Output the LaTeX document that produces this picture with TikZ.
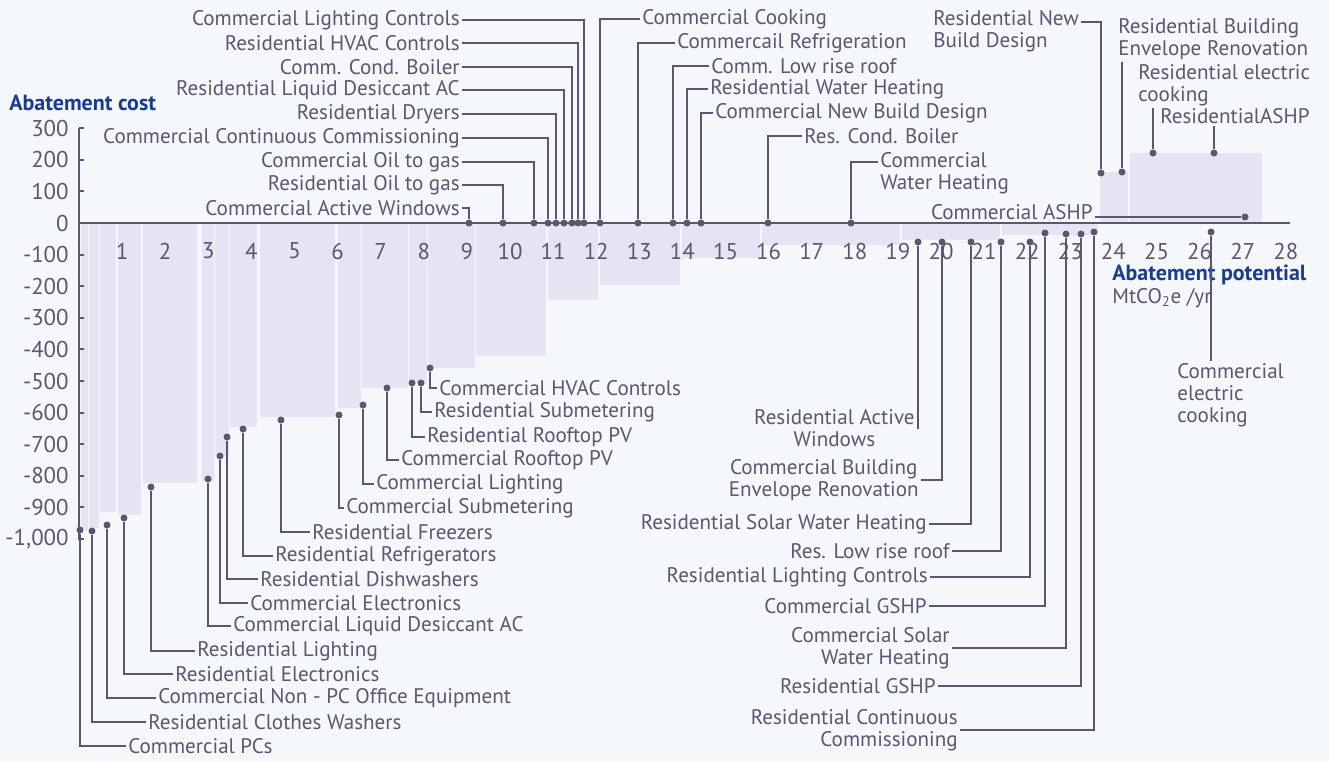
\documentclass[tikz,border=0pt]{standalone}
\usepackage{fontspec}
\setmainfont{PT Sans}
\definecolor{ink}{HTML}{5E5570}
\definecolor{barfill}{HTML}{E6E4F2}
\definecolor{paper}{HTML}{F5F8FA}
\definecolor{titleblue}{HTML}{1B3B8E}
\tikzset{
  lab/.style={font=\fontsize{12}{12.5}\selectfont, text=ink, inner sep=0.4mm},
  num/.style={font=\fontsize{13}{13}\selectfont, text=ink, inner sep=0.4mm},
  ttl/.style={font=\fontsize{12.5}{13}\selectfont\bfseries, text=titleblue, inner sep=0mm},
  dot/.style={circle, fill=ink, inner sep=0pt, minimum size=1.4mm},
  leader/.style={draw=ink, line width=0.26mm},
  axis/.style={draw=ink, line width=0.4mm},
  bar/.style={fill=barfill}
}
\begin{document}
\begin{tikzpicture}[x=0.2mm, y=-0.2mm]%courbe d'abattement

	\fill[paper] (0,0) rectangle (1329,761);
	\useasboundingbox (0,0) rectangle (1329,761);

	\foreach \a/\b/\c in {81/88/530, 89/99/528, 100/116/512, 118/141/515, 143/197/483,
		202/214/481, 215/229/457, 230/257/427, 260/335/417, 338/361/408, 362/408/388,
		409/427/383, 428/475/368, 476/546/356, 548/598/300, 600/680/285, 682/760/258,
		762/900/245, 902/1000/240, 1002/1098/235, 1100/1128/172, 1130/1262/153} {
		\fill[bar] (\a,223) rectangle (\b,\c);}

	\draw[axis] (79,540) -- (79,128);
	\draw[axis] (79,223) -- (1290,223);
	\foreach \v/\t [count=\i] in {300/300,200/200,100/100,0/0,-100/-100,-200/-200,-300/-300,
		-400/-400,-500/-500,-600/-600,-700/-700,-800/-800,-900/-900,-1000/{-1,000}} {
		\draw[axis] (79,{223-0.316*\v}) -- (84,{223-0.316*\v});
		\node[num, anchor=east] (yl\i) at (71,{223-0.316*\v}) {\t};}
	\foreach \k in {1,...,28} {
		\node[num] (xl\k) at ({79+43.1*\k},251) {\k};}

	\node[ttl, anchor=west] (ycap) at (9,103) {Abatement cost};
	\node[ttl, anchor=west] (xcap) at (1112,275) {Abatement potential};
	\node[lab, anchor=west, inner sep=0mm] (xunit) at (1112,298) {MtCO\textsubscript{2}e /yr};

	\foreach \dx/\dy/\lx/\ly/\txt [count=\i] in {80/530/126/746/Commercial PCs,
		92/531/146/722/Residential Clothes Washers,
		107/525/156/698/Commercial Non - PC Office Equipment,
		124/518/173/674/Residential Electronics,
		151/487/195/651/Residential Lighting,
		208/479/231/626/Commercial Liquid Desiccant AC,
		220/456/248/603/Commercial Electronics,
		227/437/258/579/Residential Dishwashers,
		243/429/273/556/Residential Refrigerators,
		281/420/310/532/Residential Freezers,
		339/415/344/508/Commercial Submetering,
		363/405/374/484/Commercial Lighting,
		387/388/399/460/Commercial Rooftop PV,
		412/383/425/437/Residential Rooftop PV,
		421/383/432/412/Residential Submetering,
		430/368/437/388/Commercial HVAC Controls} {
		\node[dot] (bd\i) at (\dx,\dy) {};
		\node[lab, anchor=west] (bt\i) at (\lx,\ly) {\txt};
		\draw[leader] (bd\i) |- (bt\i.west);}

	\foreach \dx/\ly/\txt [count=\i] in {469/208/Commercial Active Windows,
		503/185/Residential Oil to gas,
		534/162/Commercial Oil to gas,
		548/138/Commercial Continuous Commissioning,
		556/114/Residential Dryers,
		564/90/Residential Liquid Desiccant AC,
		572/67/Comm. Cond. Boiler,
		578/43/Residential HVAC Controls,
		584/20/Commercial Lighting Controls} {
		\node[dot] (td\i) at (\dx,223) {};
		\node[lab, anchor=east] (tt\i) at (462,\ly) {\txt};
		\draw[leader] (tt\i.east) -| (td\i);}

	\foreach \dx/\lx/\ly/\txt [count=\i] in {600/640/19/Commercial Cooking,
		638/675/43/Commercail Refrigeration,
		673/709/66/Comm. Low rise roof,
		687/708/89/Residential Water Heating,
		701/713/113/Commercial New Build Design,
		768/802/136/Res. Cond. Boiler} {
		\node[dot] (rd\i) at (\dx,223) {};
		\node[lab, anchor=west] (rt\i) at (\lx,\ly) {\txt};
		\draw[leader] (rd\i) |- (rt\i.west);}

	\foreach \dx/\dy/\lx/\ly/\al/\txt [count=\i] in {
		918/242/917/428/center/{Residential Active\\Windows},
		942/242/921/480/center/{Commercial Building\\Envelope Renovation},
		971/242/929/524/right/Residential Solar Water Heating,
		1001/242/952/551/right/Res. Low rise roof,
		1030/242/930/577/right/Residential Lighting Controls,
		1045/233/929/606/right/Commercial GSHP,
		1066/234/952/648/right/{Commercial Solar\\Water Heating},
		1081/234/938/686/right/Residential GSHP,
		1094/232/960/730/right/{Residential Continuous\\Commissioning}} {
		\node[dot] (qd\i) at (\dx,\dy) {};
		\node[lab, anchor=east, align=\al] (qt\i) at (\lx,\ly) {\txt};
		\draw[leader] (qd\i) |- (qt\i.east);}

	\node[dot] (nd1) at (1101,173) {};
	\node[lab, anchor=north west, align=left] (nt1) at (931,8) {Residential New\\Build Design};
	\draw[leader] (nd1) |- ([yshift=-2.8mm]nt1.north east);
	\node[dot] (nd2) at (1122,172) {};
	\node[lab, anchor=north west, align=left] (nt2) at (1116,16) {Residential Building\\Envelope Renovation};
	\draw[leader] (nd2) -- (nd2 |- nt2.south);
	\node[dot] (nd3) at (1153,153) {};
	\node[lab, anchor=north west, align=left] (nt3) at (1136,62) {Residential electric\\cooking};
	\draw[leader] (nd3) -- (nd3 |- nt3.south);
	\node[dot] (nd4) at (1214,153) {};
	\node[lab, anchor=west] (nt4) at (1158,116) {ResidentialASHP};
	\draw[leader] (nd4) -- (nd4 |- nt4.south);
	\node[dot] (nd5) at (1245,217) {};
	\node[lab, anchor=east] (nt5) at (1095,212) {Commercial ASHP};
	\draw[leader] (nd5) -- (nd5 -| nt5.east);
	\node[dot] (nd6) at (1211,232) {};
	\node[lab, anchor=north west, align=left] (nt6) at (1175,361) {Commercial\\electric\\cooking};
	\draw[leader] (nd6) -- (nd6 |- nt6.north);
	\node[dot] (nd7) at (851,223) {};
	\node[lab, anchor=north west, align=left] (nt7) at (878,150) {Commercial\\Water Heating};
	\draw[leader] (nd7) |- ([yshift=-2.4mm]nt7.north west);
\end{tikzpicture}
\end{document}
